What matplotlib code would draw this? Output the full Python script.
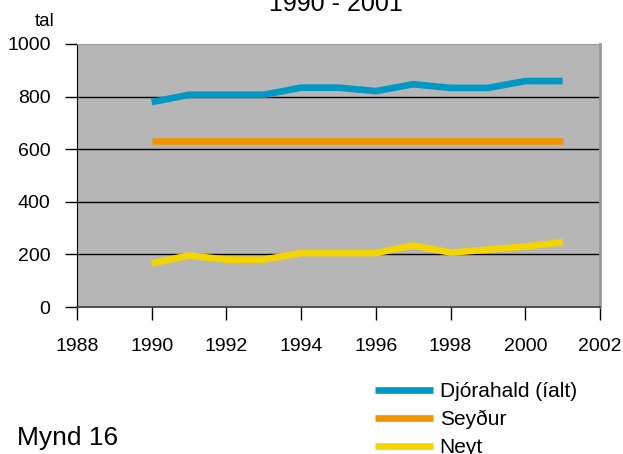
import matplotlib.pyplot as plt

plt.rcParams['font.family'] = ['Liberation Sans', 'DejaVu Sans']

years = [1990, 1991, 1992, 1993, 1994, 1995, 1996, 1997, 1998, 1999, 2000, 2001]
djorahald = [779, 807, 807, 807, 834, 834, 821, 847, 833, 833, 859, 859]
seydur = [632, 632, 632, 632, 632, 632, 632, 632, 632, 632, 632, 632]
neyt = [166, 196, 180, 180, 205, 205, 205, 234, 207, 218, 230, 246]

labels = ['Djórahald (íalt)', 'Seyður', 'Neyt']
colors = ['#0098c4', '#f09400', '#f5d500']
xticks = list(range(1988, 2003, 2))
yticks = list(range(0, 1001, 200))

fig = plt.figure(figsize=(6.23, 4.54), dpi=100)
ax = fig.add_axes([77 / 623, 1 - 307 / 454, 523 / 623, 263 / 454])
ax.set_facecolor('#b6b6b6')

# horizontal grid lines
for y in [200, 400, 600, 800]:
    ax.axhline(y, color='black', linewidth=1.0, zorder=1)

for vals, lab, col in zip([djorahald, seydur, neyt], labels, colors):
    ax.plot(years, vals, color=col, linewidth=4.8, label=lab, solid_capstyle='butt', zorder=3)

ax.set_xlim(1988, 2002)
ax.set_ylim(0, 1000)
ax.set_xticks(xticks)
ax.set_yticks(yticks)
ax.tick_params(axis='both', labelsize=14, direction='out', width=1, color='black')
ax.tick_params(axis='x', length=9, pad=13)
ax.tick_params(axis='y', length=9, pad=10)

ax.spines['left'].set_color('black')
ax.spines['bottom'].set_color('#444444')
ax.spines['bottom'].set_linewidth(1.3)
ax.spines['top'].set_color('#9c9c9c')
ax.spines['right'].set_color('#999999')
ax.spines['right'].set_linewidth(2)

fig.text(336 / 623, 1 - 11 / 454, '1990 - 2001', ha='center', va='baseline', fontsize=18)
fig.text(45 / 623, 1 - 21 / 454, 'tal', ha='center', va='center', fontsize=13.5)
fig.text(17 / 623, 1 - 438 / 454, 'Mynd 16', ha='left', va='center', fontsize=19)

leg = fig.legend(loc='upper left', bbox_to_anchor=(375 / 623, 1 - 382 / 454),
                 frameon=False, fontsize=15, handlelength=2.8, handletextpad=0.3,
                 labelspacing=0.42, borderaxespad=0, borderpad=0)

fig.savefig('out.png', dpi=100)
